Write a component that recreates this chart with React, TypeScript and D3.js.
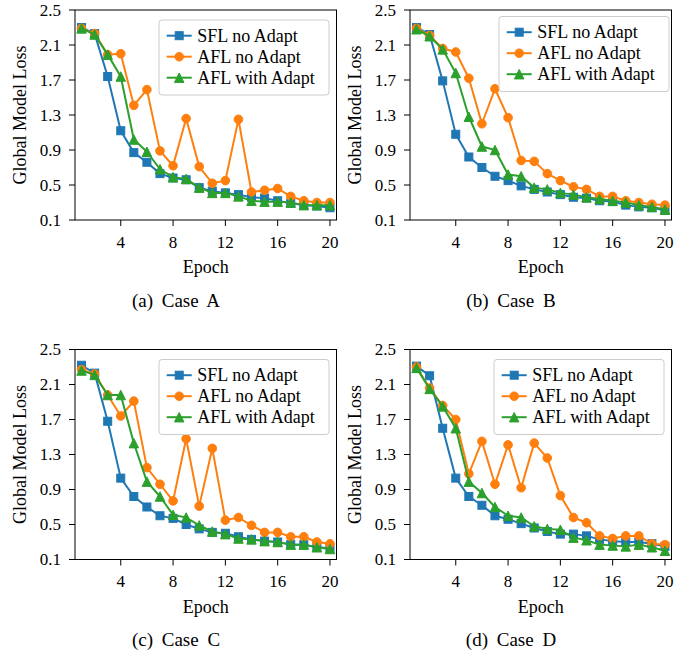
import React from "react";
import * as d3 from "d3";

const epochs = d3.range(1, 21);
const xTicks = [4, 8, 12, 16, 20];
const yTicks = [0.1, 0.5, 0.9, 1.3, 1.7, 2.1, 2.5];
const seriesNames = ["SFL no Adapt", "AFL no Adapt", "AFL with Adapt"];
const seriesColors = ["#1f77b4", "#ff7f0e", "#2ca02c"];
const seriesMarkers = ["square", "circle", "triangle"];

const caseA_SFL = [2.30, 2.23, 1.74, 1.12, 0.87, 0.76, 0.63, 0.58, 0.56, 0.47, 0.43, 0.41, 0.39, 0.36, 0.35, 0.32, 0.29, 0.27, 0.26, 0.24];
const caseA_AFL = [2.29, 2.23, 1.99, 2.00, 1.41, 1.59, 0.89, 0.72, 1.26, 0.71, 0.52, 0.55, 1.25, 0.42, 0.44, 0.46, 0.37, 0.32, 0.30, 0.30];
const caseA_Adapt = [2.29, 2.22, 1.99, 1.74, 1.02, 0.88, 0.68, 0.59, 0.57, 0.47, 0.41, 0.41, 0.37, 0.32, 0.31, 0.31, 0.30, 0.27, 0.27, 0.27];

const caseB_SFL = [2.30, 2.22, 1.69, 1.08, 0.82, 0.70, 0.60, 0.55, 0.49, 0.45, 0.42, 0.39, 0.36, 0.35, 0.32, 0.31, 0.27, 0.25, 0.24, 0.21];
const caseB_AFL = [2.29, 2.21, 2.06, 2.02, 1.72, 1.20, 1.60, 1.27, 0.78, 0.77, 0.63, 0.55, 0.48, 0.45, 0.37, 0.37, 0.32, 0.30, 0.28, 0.27];
const caseB_Adapt = [2.28, 2.20, 2.05, 1.78, 1.28, 0.94, 0.90, 0.62, 0.60, 0.47, 0.45, 0.41, 0.39, 0.36, 0.34, 0.32, 0.30, 0.27, 0.25, 0.22];

const caseC_SFL = [2.32, 2.23, 1.68, 1.03, 0.82, 0.70, 0.60, 0.57, 0.50, 0.45, 0.41, 0.40, 0.36, 0.33, 0.31, 0.30, 0.27, 0.27, 0.24, 0.23];
const caseC_AFL = [2.27, 2.22, 1.98, 1.74, 1.91, 1.15, 0.96, 0.77, 1.48, 0.71, 1.37, 0.55, 0.58, 0.49, 0.41, 0.41, 0.36, 0.36, 0.30, 0.28];
const caseC_Adapt = [2.26, 2.21, 1.98, 1.98, 1.43, 0.99, 0.82, 0.61, 0.58, 0.49, 0.42, 0.39, 0.34, 0.33, 0.31, 0.30, 0.27, 0.27, 0.24, 0.22];

const caseD_SFL = [2.31, 2.20, 1.60, 1.03, 0.82, 0.72, 0.60, 0.56, 0.51, 0.46, 0.42, 0.39, 0.39, 0.37, 0.33, 0.31, 0.30, 0.30, 0.28, 0.25];
const caseD_AFL = [2.30, 2.06, 1.86, 1.70, 1.08, 1.45, 0.96, 1.41, 0.92, 1.43, 1.26, 0.83, 0.58, 0.52, 0.37, 0.34, 0.37, 0.37, 0.28, 0.27];
const caseD_Adapt = [2.29, 2.05, 1.85, 1.60, 0.99, 0.86, 0.70, 0.60, 0.58, 0.48, 0.45, 0.44, 0.35, 0.32, 0.27, 0.26, 0.25, 0.27, 0.24, 0.20];

const captions = ["(a) Case A", "(b) Case B", "(c) Case C", "(d) Case D"];

const FONT = "'Liberation Serif', 'Times New Roman', Times, serif";
const AX_W = 261.5;
const AX_H = 210;

const panels = [
  { caption: captions[0], ox: 75, oy: 10, series: [caseA_SFL, caseA_AFL, caseA_Adapt], ldx: 0, ldy: 0 },
  { caption: captions[1], ox: 410, oy: 10, series: [caseB_SFL, caseB_AFL, caseB_Adapt], ldx: 5, ldy: -3.5 },
  { caption: captions[2], ox: 75, oy: 349.5, series: [caseC_SFL, caseC_AFL, caseC_Adapt], ldx: 0, ldy: 0 },
  { caption: captions[3], ox: 410, oy: 349.5, series: [caseD_SFL, caseD_AFL, caseD_Adapt], ldx: 0, ldy: 0 },
];

function Marker({ kind, x, y, color }: { kind: string; x: number; y: number; color: string }) {
  if (kind === "square") {
    const s = 8;
    return <rect x={x - s / 2} y={y - s / 2} width={s} height={s} fill={color} stroke={color} strokeWidth={1} />;
  }
  if (kind === "circle") {
    return <circle cx={x} cy={y} r={4.3} fill={color} stroke={color} strokeWidth={1} />;
  }
  const h = 9.5;
  const p = `M${x},${y - h / 2}L${x - h / 2},${y + h / 2}L${x + h / 2},${y + h / 2}Z`;
  return <path d={p} fill={color} stroke={color} strokeWidth={1} strokeLinejoin="miter" />;
}

function Panel({ p }: { p: (typeof panels)[number] }) {
  const x = d3.scaleLinear().domain([0.5, 20.5]).range([p.ox, p.ox + AX_W]);
  const y = d3.scaleLinear().domain([0.1, 2.5]).range([p.oy + AX_H, p.oy]);
  const line = d3
    .line<number>()
    .x((_, i) => x(epochs[i]))
    .y((d) => y(d));
  const lx = p.ox + 84 + p.ldx;
  const ly = p.oy + 10 + p.ldy;
  const cx = p.ox + AX_W / 2;
  return (
    <g>
      {p.series.map((vals, si) => (
        <g key={si}>
          <path d={line(vals) || ""} fill="none" stroke={seriesColors[si]} strokeWidth={2} strokeLinejoin="round" />
          {vals.map((v, i) => (
            <Marker key={i} kind={seriesMarkers[si]} x={x(epochs[i])} y={y(v)} color={seriesColors[si]} />
          ))}
        </g>
      ))}
      <rect x={p.ox} y={p.oy} width={AX_W} height={AX_H} fill="none" stroke="#000" strokeWidth={1} />
      {yTicks.map((t) => (
        <g key={t}>
          <line x1={p.ox - 6} x2={p.ox} y1={y(t)} y2={y(t)} stroke="#000" strokeWidth={1} />
          <text x={p.ox - 14} y={y(t)} textAnchor="end" dominantBaseline="central" fontSize={17} fontFamily={FONT}>
            {d3.format(".1f")(t)}
          </text>
        </g>
      ))}
      {xTicks.map((t) => (
        <g key={t}>
          <line x1={x(t)} x2={x(t)} y1={p.oy + AX_H} y2={p.oy + AX_H + 6} stroke="#000" strokeWidth={1} />
          <text x={x(t)} y={p.oy + AX_H + 22} textAnchor="middle" dominantBaseline="central" fontSize={17} fontFamily={FONT}>
            {t}
          </text>
        </g>
      ))}
      <text x={cx} y={p.oy + AX_H + 47} textAnchor="middle" dominantBaseline="central" fontSize={18} fontFamily={FONT}>
        Epoch
      </text>
      <text
        transform={`translate(${p.ox - 55},${p.oy + AX_H / 2}) rotate(-90)`}
        textAnchor="middle"
        dominantBaseline="central"
        fontSize={18}
        fontFamily={FONT}
      >
        Global Model Loss
      </text>
      <text x={p.ox + 101} y={p.oy + 290} textAnchor="middle" dominantBaseline="central" fontSize={19} fontFamily={FONT} wordSpacing={4}>
        {p.caption}
      </text>
      <g>
        <rect x={lx} y={ly} width={170} height={75} rx={3} fill="#fff" fillOpacity={0.8} stroke="#cccccc" strokeWidth={1} />
        {seriesNames.map((name, i) => {
          const ry = ly + 15.7 + i * 21;
          return (
            <g key={name}>
              <line x1={lx + 7.7} x2={lx + 32.7} y1={ry} y2={ry} stroke={seriesColors[i]} strokeWidth={2} />
              <Marker kind={seriesMarkers[i]} x={lx + 20.2} y={ry} color={seriesColors[i]} />
              <text x={lx + 38.3} y={ry} dominantBaseline="central" fontSize={18} fontFamily={FONT}>
                {name}
              </text>
            </g>
          );
        })}
      </g>
    </g>
  );
}

export default function App() {
  return (
    <svg
      width={699}
      height={651}
      style={{ position: "absolute", left: 0, top: 0, background: "#fff" }}
      xmlns="http://www.w3.org/2000/svg"
    >
      <rect x={0} y={0} width={699} height={651} fill="#fff" />
      {panels.map((p) => (
        <Panel key={p.caption} p={p} />
      ))}
    </svg>
  );
}
